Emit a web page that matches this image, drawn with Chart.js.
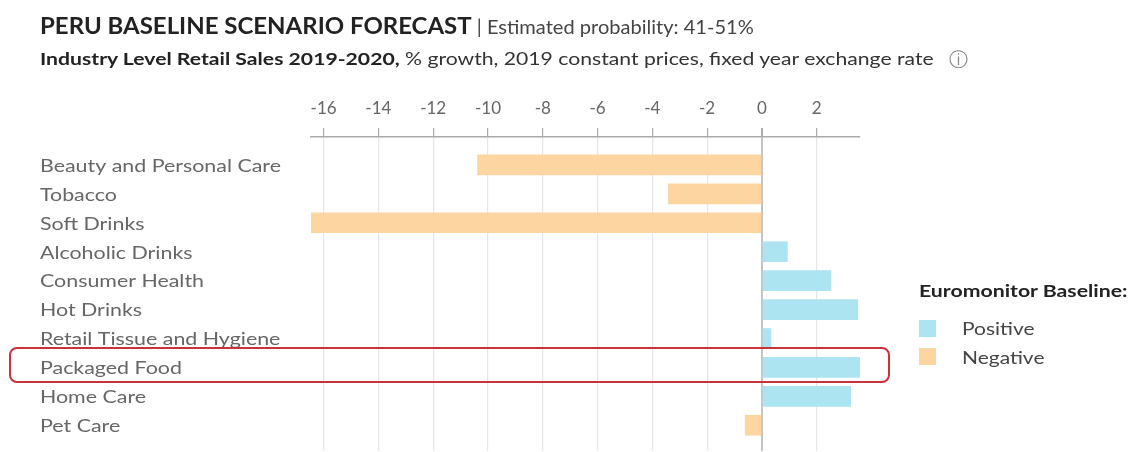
<!DOCTYPE html>
<html>
<head>
<meta charset="utf-8">
<script src="https://cdn.jsdelivr.net/npm/chart.js@4/dist/chart.umd.min.js"></script>
<style>
  html, body { margin: 0; padding: 0; background: #fff; }
  body { width: 1129px; height: 452px; position: relative; overflow: hidden; font-family: Lato, sans-serif; }
  #wrap { position: absolute; left: 0; top: 0; width: 1129px; height: 452px; }
  .t { position: absolute; white-space: nowrap; line-height: 1; transform-origin: left center; }
  #title { left: 40px; top: 15px; font-size: 22px; color: #222; font-weight: 700; transform: scaleX(1.09); }
  #title span { font-weight: 400; font-size: 18.4px; color: #444; }
  #sub { left: 40px; top: 50px; font-size: 17px; color: #333; transform: scaleX(1.245); }
  #sub b { color: #222; }
  #info { left: 949px; top: 49px; font-size: 19px; color: #888; }
  #legendTitle { left: 919px; top: 282px; font-size: 17px; font-weight: 700; color: #222; transform: scaleX(1.25); }
  .swatch { position: absolute; left: 919px; width: 17px; height: 17px; }
  .lab { left: 962px; font-size: 18px; color: #444; transform: scaleX(1.165); }
  #focus { position: absolute; left: 9px; top: 347px; width: 877px; height: 32px; border: 2px solid #c8323c; border-radius: 8px; }
</style>
</head>
<body>
<div id="wrap"><canvas id="c" width="1129" height="452"></canvas></div>
<div class="t" id="title">PERU BASELINE SCENARIO FORECAST <span>| Estimated probability: 41-51%</span></div>
<div class="t" id="sub"><b>Industry Level Retail Sales 2019-2020,</b> % growth, 2019 constant prices, fixed year exchange rate</div>
<div class="t" id="info">ⓘ</div>
<div class="t" id="legendTitle">Euromonitor Baseline:</div>
<div class="swatch" style="top:320px;background:#ace4f1"></div>
<div class="t lab" style="top:319px">Positive</div>
<div class="swatch" style="top:348px;background:#fdd5a1"></div>
<div class="t lab" style="top:348px">Negative</div>
<div id="focus"></div>
<script>
const categories = ["Beauty and Personal Care", "Tobacco", "Soft Drinks", "Alcoholic Drinks", "Consumer Health", "Hot Drinks", "Retail Tissue and Hygiene", "Packaged Food", "Home Care", "Pet Care"];
const positiveValues = [null, null, null, 0.93, 2.52, 3.5, 0.33, 3.58, 3.24, null];
const negativeValues = [-10.38, -3.42, -16.46, null, null, null, null, null, null, -0.61];
const xTicks = [-16, -14, -12, -10, -8, -6, -4, -2, 0, 2];
const xMin = -16.46, xMax = 3.58;
const yMin = -0.965, yMax = 9.89;

const points = vals => vals.map((v, i) => v === null ? null : { x: v, y: i }).filter(Boolean);

// Category labels are set a little wider than the font's natural proportions.
const widenLabels = (scale, factor) => {
  if (scale._widened) return;
  scale._widened = true;
  const drawLabels = scale.drawLabels.bind(scale);
  scale.drawLabels = area => {
    const ctx = scale.ctx;
    ctx.save();
    ctx.translate(scale.left, 1);
    ctx.scale(factor, 1);
    ctx.translate(-scale.left, 0);
    drawLabels(area);
    ctx.restore();
  };
};

new Chart(document.getElementById('c'), {
  type: 'bar',
  data: {
    datasets: [
      { label: 'Positive', data: points(positiveValues), backgroundColor: '#ace4f1', barThickness: 20 },
      { label: 'Negative', data: points(negativeValues), backgroundColor: '#fdd5a1', barThickness: 20 }
    ]
  },
  options: {
    indexAxis: 'y',
    responsive: false,
    animation: false,
    layout: { autoPadding: false, padding: { left: 40, right: 269, top: 0, bottom: 1 } },
    plugins: { legend: { display: false }, tooltip: { enabled: false } },
    scales: {
      x: {
        type: 'linear', position: 'top', stacked: true,
        min: xMin, max: xMax,
        afterBuildTicks: s => { s.ticks = xTicks.map(value => ({ value })); },
        afterFit: s => { s.height = 137; },
        border: { color: '#aaa', width: 1.5 },
        grid: {
          color: c => c.tick && c.tick.value === 0 ? '#c4c4c4' : '#e6e6e6',
          lineWidth: c => c.tick && c.tick.value === 0 ? 2 : 1.2,
          tickColor: '#aaa', tickLength: 9
        },
        ticks: { color: '#666', font: { family: 'Lato', size: 17 }, padding: 9, maxRotation: 0, autoSkip: false }
      },
      y: {
        type: 'linear', reverse: true, stacked: true, offset: false,
        min: yMin, max: yMax,
        afterBuildTicks: s => { s.ticks = categories.map((_, value) => ({ value })).concat([{ value: yMax }]); },
        afterFit: s => { s.width = 271; s.paddingTop = 0; s.paddingBottom = 0; },
        afterUpdate: s => widenLabels(s, 1.188),
        border: { display: false },
        grid: { offset: false, color: c => c.tick && c.tick.value === yMax ? '#ddd' : 'transparent', drawTicks: false },
        ticks: {
          color: '#666', crossAlign: 'far', autoSkip: false,
          font: { family: 'Lato', size: 18 },
          callback: v => categories[v]
        }
      }
    }
  }
});
</script>
</body>
</html>
